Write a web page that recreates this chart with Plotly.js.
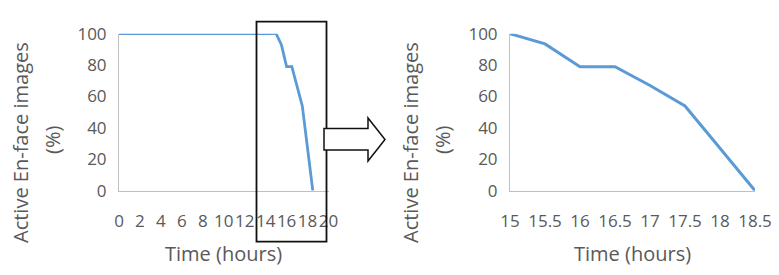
<!DOCTYPE html>
<html>
<head>
<meta charset="utf-8">
<script src="https://cdn.plot.ly/plotly-3.0.1.min.js"></script>
<style>html,body{margin:0;padding:0;background:#fff;}#chart{width:779px;height:275px;}</style>
</head>
<body>
<div id="chart"></div>
<script>
// ---- data ----
const leftTime = [0, 15, 15.5, 16, 16.5, 17, 17.5, 18, 18.5];
const leftActive = [100, 100, 93, 79, 79, 67, 54, 27, 0];
const rightTime = [15, 15.5, 16, 16.5, 17, 17.5, 18, 18.5];
const rightActive = [100, 93.5, 79, 79, 67, 54, 27, 0];
const leftTicks = [0, 2, 4, 6, 8, 10, 12, 14, 16, 18, 20];
const rightTicks = [15, 15.5, 16, 16.5, 17, 17.5, 18, 18.5];
const yTicks = [0, 20, 40, 60, 80, 100];
const xTitle = "Time (hours)";
const yTitle1 = "Active En-face images";
const yTitle2 = "(%)";

const W = 779, H = 275;
const px = v => v / W;
const py = v => 1 - v / H;
const gray = '#595959';
const blue = '#5b9bd5';
const font = 'Open Sans, sans-serif';

const traces = [
  {x: leftTime, y: leftActive, xaxis: 'x', yaxis: 'y', mode: 'lines',
   line: {color: blue, width: 2.8}, hoverinfo: 'skip'},
  {x: rightTime, y: rightActive, xaxis: 'x2', yaxis: 'y2', mode: 'lines',
   line: {color: blue, width: 3}, hoverinfo: 'skip'}
];

const axBase = {
  showgrid: false, zeroline: false, showline: true, linecolor: '#c0c0c0', linewidth: 1,
  ticks: '', tickangle: 0, tickfont: {family: font, size: 17, color: gray}, fixedrange: true
};

const layout = {
  width: W, height: H,
  margin: {l: 0, r: 0, t: 0, b: 0},
  paper_bgcolor: '#fff', plot_bgcolor: 'rgba(0,0,0,0)',
  showlegend: false,
  xaxis: Object.assign({}, axBase, {domain: [px(119), px(328.5)], range: [0, 20],
    tickmode: 'array', tickvals: leftTicks, ticktext: leftTicks.map(String),
    anchor: 'y', ticklabelstandoff: 15}),
  yaxis: Object.assign({}, axBase, {domain: [py(190.7), py(33.7)], range: [0, 100],
    tickmode: 'array', tickvals: yTicks, ticktext: yTicks.map(String),
    anchor: 'x', ticklabelstandoff: 8}),
  xaxis2: Object.assign({}, axBase, {domain: [px(510), px(755)], range: [15, 18.5],
    tickmode: 'array', tickvals: rightTicks, ticktext: rightTicks.map(String),
    anchor: 'y2', ticklabelstandoff: 15}),
  yaxis2: Object.assign({}, axBase, {domain: [py(190.7), py(33.7)], range: [0, 100],
    tickmode: 'array', tickvals: yTicks, ticktext: yTicks.map(String),
    anchor: 'x2', ticklabelstandoff: 8}),
  annotations: [
    {text: xTitle, xref: 'paper', yref: 'paper', x: px(223), y: py(253), xanchor: 'center', yanchor: 'middle', showarrow: false, font: {family: font, size: 20, color: gray}},
    {text: xTitle, xref: 'paper', yref: 'paper', x: px(632), y: py(253), xanchor: 'center', yanchor: 'middle', showarrow: false, font: {family: font, size: 20, color: gray}},
    {text: yTitle1, xref: 'paper', yref: 'paper', x: px(20), y: py(143), textangle: -90, xanchor: 'center', yanchor: 'middle', showarrow: false, font: {family: font, size: 20, color: gray}},
    {text: yTitle2, xref: 'paper', yref: 'paper', x: px(53), y: py(140), textangle: -90, xanchor: 'center', yanchor: 'middle', showarrow: false, font: {family: font, size: 20, color: gray}},
    {text: yTitle1, xref: 'paper', yref: 'paper', x: px(410), y: py(143), textangle: -90, xanchor: 'center', yanchor: 'middle', showarrow: false, font: {family: font, size: 20, color: gray}},
    {text: yTitle2, xref: 'paper', yref: 'paper', x: px(443), y: py(140), textangle: -90, xanchor: 'center', yanchor: 'middle', showarrow: false, font: {family: font, size: 20, color: gray}}
  ],
  shapes: [
    {type: 'rect', xref: 'paper', yref: 'paper', x0: px(256.5), x1: px(326.5), y0: py(241.7), y1: py(21.7),
     line: {color: '#111', width: 1.8}, fillcolor: 'rgba(0,0,0,0)', layer: 'above'},
    {type: 'path', xref: 'paper', yref: 'paper',
     path: 'M ' + px(324) + ' ' + py(128.5) + ' L ' + px(368) + ' ' + py(128.5) + ' L ' + px(368) + ' ' + py(118) +
           ' L ' + px(385) + ' ' + py(139.5) + ' L ' + px(368) + ' ' + py(161) + ' L ' + px(368) + ' ' + py(150) +
           ' L ' + px(324) + ' ' + py(150) + ' Z',
     line: {color: '#111', width: 1.5}, fillcolor: '#fff', layer: 'above'}
  ]
};

Plotly.newPlot('chart', traces, layout, {staticPlot: true, displayModeBar: false});
</script>
</body>
</html>
